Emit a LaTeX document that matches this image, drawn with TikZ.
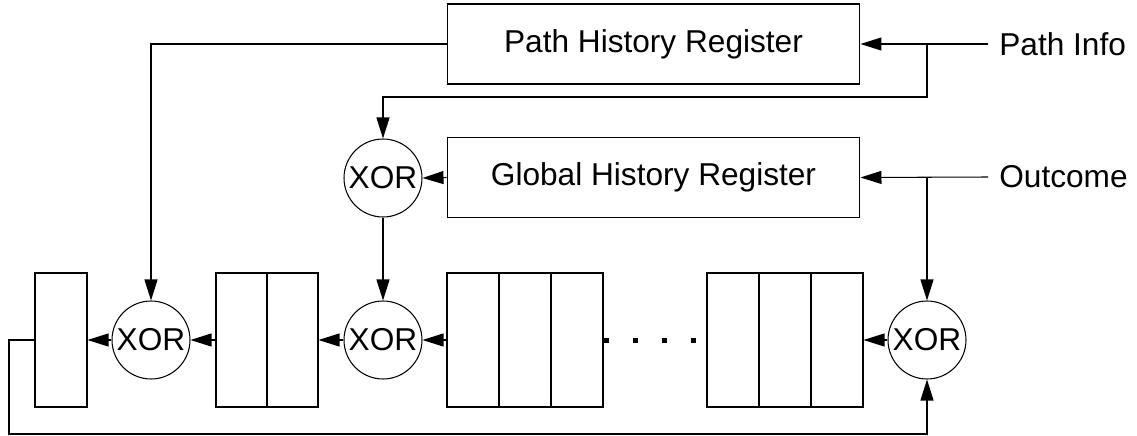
\documentclass[tikz,border=0pt]{standalone}
\usepackage{fontspec}
\setmainfont{Liberation Sans}
\usetikzlibrary{arrows.meta,calc}
\tikzset{
  wire/.style={draw=black, line width=0.6pt},
  flow/.style={wire, -{Triangle[length=0.42cm,width=0.26cm]}},
  dots/.style={draw=black, line width=0.1cm, dash pattern=on 0.1cm off 0.48cm},
  xorgate/.style={circle, draw, line width=0.6pt, minimum size=1.56cm, inner sep=0pt},
  cell/.style={draw, line width=0.6pt, minimum width=1.04cm, minimum height=2.68cm, inner sep=0pt},
  regbox/.style={draw, line width=0.6pt, minimum width=8.26cm, minimum height=1.6cm, inner sep=0pt},
  tag/.style={anchor=west, inner xsep=0.22cm, inner ysep=0pt},
}
\begin{document}
\begin{tikzpicture}[x=0.02cm, y=-0.02cm, font=\fontsize{18}{21}\selectfont]
  \useasboundingbox (0,0) rectangle (1137,436);

  % history registers and their inputs
  \node[regbox] (phr) at (653.5,44) {Path History Register};
  \node[regbox] (ghr) at (653.5,177.5) {Global History Register};
  \node[tag] (pinfo) at (988,44) {Path Info};
  \node[tag] (outc) at (988,177) {Outcome};

  % xor gates
  \node[xorgate] (xt) at (383,178) {XOR};
  \node[xorgate] (x1) at (151,340) {XOR};
  \node[xorgate] (x2) at (383,340) {XOR};
  \node[xorgate] (x3) at (927,340) {XOR};

  % shift register stages
  \node[cell] (b1) at (61,340) {};
  \node[cell, minimum width=1.02cm] (b2a) at (241.5,340) {};
  \node[cell, minimum width=1.02cm] (b2b) at (292.5,340) {};
  \node[cell] (b3a) at (473,340) {};
  \node[cell] (b3b) at (525,340) {};
  \node[cell] (b3c) at (577,340) {};
  \node[cell] (b4a) at (733,340) {};
  \node[cell] (b4b) at (785,340) {};
  \node[cell] (b4c) at (837,340) {};

  % branch points and feedback corner
  \coordinate (jp) at (927,44);
  \coordinate (jp2) at (927,97);
  \coordinate (jo) at (927,177);
  \coordinate (fb) at (9,434);

  % connections
  \draw[flow] (pinfo.west) -- (phr.east);
  \draw[flow] (outc.west) -- (ghr.east);
  \draw[flow] (ghr.west) -- (xt.east);
  \draw[flow] (phr.west) -| (x1.north);
  \draw[flow] (jp) -- (jp2) -| (xt.north);
  \draw[flow] (jo) -- (x3.north);
  \draw[flow] (xt.south) -- (x2.north);
  \draw[flow] (x3.west) -- (b4c.east);
  \draw[dots] (b3c.east) -- (b4a.west);
  \draw[flow] (b3a.west) -- (x2.east);
  \draw[flow] (x2.west) -- (b2b.east);
  \draw[flow] (b2a.west) -- (x1.east);
  \draw[flow] (x1.west) -- (b1.east);
  \draw[flow] (b1.west) -| (fb) -| (x3.south);
\end{tikzpicture}
\end{document}
